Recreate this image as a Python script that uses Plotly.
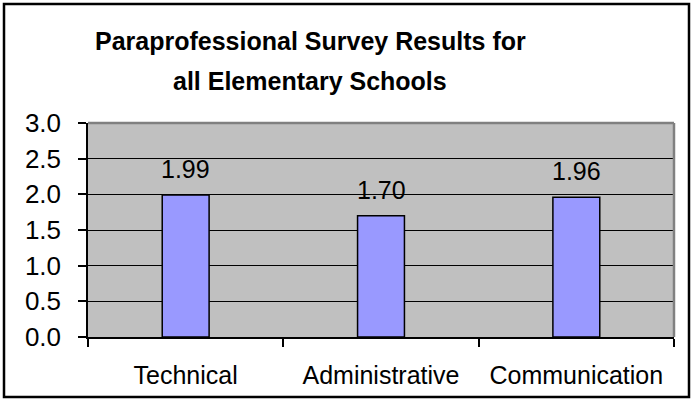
import plotly.graph_objects as go

categories = ["Technical", "Administrative", "Communication"]
values = [1.99, 1.70, 1.96]
value_labels = ["1.99", "1.70", "1.96"]
y_ticks = [0.0, 0.5, 1.0, 1.5, 2.0, 2.5, 3.0]
y_tick_labels = ["0.0", "0.5", "1.0", "1.5", "2.0", "2.5", "3.0"]
title_lines = ["Paraprofessional Survey Results for", "all Elementary Schools"]

FONT = "Liberation Sans, Arial, sans-serif"

# plot area in pixels
L, R, T, B = 88, 674, 123, 337
PW, PH = R - L, B - T

def px_x(x):
    return (x - L) / PW

def px_y(y):
    return (B - y) / PH

fig = go.Figure()
fig.add_trace(go.Bar(
    x=categories, y=values,
    width=0.24,
    marker=dict(color="#9999FF", line=dict(color="black", width=1.5)),
    hoverinfo="skip",
))

for c, v, t in zip(categories, values, value_labels):
    fig.add_annotation(x=c, y=v, text=t, showarrow=False, xref="x", yref="y",
                       yanchor="middle", yshift=26,
                       font=dict(family=FONT, size=25, color="black"))

for line, ypix in zip(title_lines, [41, 81]):
    fig.add_annotation(x=px_x(310), xref="paper", y=px_y(ypix), yref="paper",
                       text="<b>" + line + "</b>", showarrow=False,
                       xanchor="center", yanchor="middle",
                       font=dict(family=FONT, size=25, color="black"))

fig.update_layout(
    width=692, height=400,
    margin=dict(l=L, r=692 - R, t=T, b=400 - B),
    paper_bgcolor="white",
    plot_bgcolor="#C0C0C0",
    showlegend=False,
    font=dict(family=FONT, size=25, color="black"),
    xaxis=dict(
        showgrid=False, showline=True, linecolor="black", linewidth=1.5,
        ticks="outside", ticklen=8, tickcolor="black", tickwidth=1.5,
        tickson="boundaries", ticklabelstandoff=15,
        tickfont=dict(family=FONT, size=25, color="black"),
        fixedrange=True,
    ),
    yaxis=dict(
        range=[0, 3.0], tickvals=y_ticks, ticktext=y_tick_labels,
        showgrid=True, gridcolor="black", gridwidth=1,
        showline=True, linecolor="black", linewidth=1.5,
        ticks="outside", ticklen=8, tickcolor="black", tickwidth=1.5,
        ticklabelstandoff=12, zeroline=False,
        tickfont=dict(family=FONT, size=26, color="black"),
        fixedrange=True,
    ),
)

# plot-area gray border (top and right)
fig.add_shape(type="line", xref="paper", yref="paper", x0=0, x1=1, y0=1, y1=1,
              line=dict(color="#808080", width=2.5))
fig.add_shape(type="line", xref="paper", yref="paper", x0=1, x1=1, y0=0, y1=1,
              line=dict(color="#808080", width=2.5))
# outer chart border
fig.add_shape(type="rect", xref="paper", yref="paper",
              x0=px_x(4), x1=px_x(689), y0=px_y(397), y1=px_y(4),
              line=dict(color="black", width=2.5), fillcolor="rgba(0,0,0,0)")

fig.write_html("out.html")
